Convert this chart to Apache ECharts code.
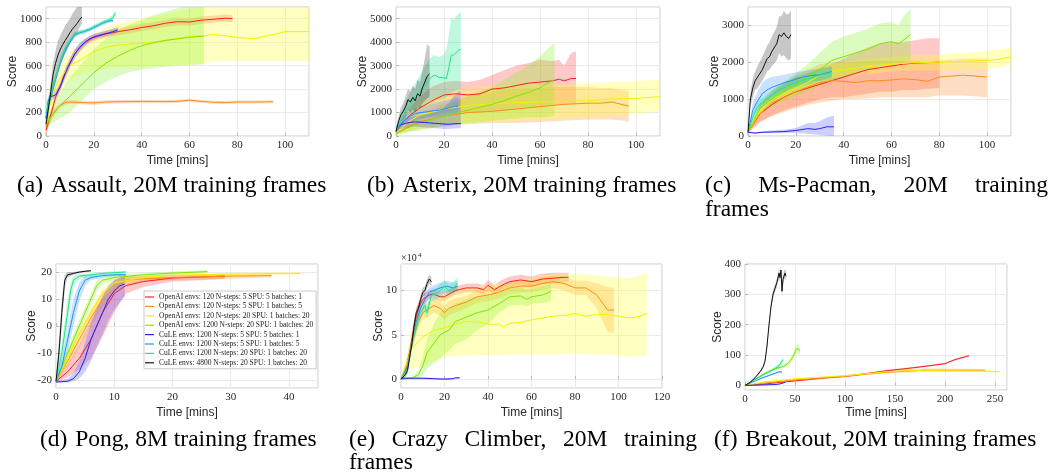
<!DOCTYPE html>
<html><head><meta charset="utf-8">
<script src="https://cdn.jsdelivr.net/npm/echarts@6/dist/echarts.min.js"></script>
<style>html,body{margin:0;padding:0;background:#fff}#c{width:1051px;height:475px}</style>
</head><body><div id="c"></div>
<script>
// ---------- series names / colours ----------
const NAMES = [
 'OpenAI envs: 120 N-steps: 5 SPU: 5 batches: 1',
 'OpenAI envs: 120 N-steps: 5 SPU: 1 batches: 5',
 'OpenAI envs: 120 N-steps: 20 SPU: 1 batches: 20',
 'OpenAI envs: 1200 N-steps: 20 SPU: 1 batches: 20',
 'CuLE envs: 1200 N-steps: 5 SPU: 5 batches: 1',
 'CuLE envs: 1200 N-steps: 5 SPU: 1 batches: 5',
 'CuLE envs: 1200 N-steps: 20 SPU: 1 batches: 20',
 'CuLE envs: 4800 N-steps: 20 SPU: 1 batches: 20'
];
const COLORS = ['#ff1f1f','#ff8c1a','#f2f200','#80e600','#2323ff','#1f8fff','#1fe68c','#111111'];
const BANDS  = ['rgba(255,40,40,0.25)','rgba(255,140,40,0.28)','rgba(255,255,60,0.32)','rgba(130,240,20,0.28)',
                'rgba(60,60,255,0.25)','rgba(40,140,255,0.25)','rgba(30,230,140,0.28)','rgba(0,0,0,0.22)'];
const X_TITLE = 'Time [mins]';
const Y_TITLE = 'Score';

// ---------- data: each point is [time (mins), mean, lower, upper] ----------
// order: red, orange, yellow, lime, blue, azure, spring, black  (same as NAMES)
const assault = [
 [[0,50,20,80],[2,180,150,210],[4,330,290,370],[6,430,390,470],[8,540,500,580],[10,620,585,660],[12,700,665,735],[14,750,715,785],[16,790,755,825],[18,820,790,850],[20,840,810,870],[25,870,840,900],[30,890,860,920],[35,905,875,935],[40,925,895,955],[45,940,910,970],[50,962,932,992],[55,975,945,1005],[60,972,942,1002],[65,988,958,1018],[70,995,965,1025],[75,1005,975,1035],[78,1000,970,1030]],
 [[0,80,20,140],[2,160,120,200],[4,220,190,250],[6,260,240,280],[8,285,265,305],[10,290,275,305],[15,285,270,300],[20,282,265,298],[25,290,275,305],[30,292,278,306],[40,295,280,310],[50,293,280,306],[55,296,282,310],[60,305,292,318],[65,295,282,308],[70,288,275,300],[75,285,272,298],[80,290,277,303],[90,290,277,303],[95,292,280,305]],
 [[0,120,60,180],[2,300,200,400],[5,470,350,590],[10,600,480,720],[15,655,530,790],[20,720,560,860],[25,755,575,920],[30,775,585,960],[40,790,595,1000],[50,815,600,1040],[60,848,610,1080],[66,855,615,1100],[70,865,640,1150],[75,855,640,1150],[80,840,640,1150],[87,830,640,1150],[95,865,640,1150],[100,890,640,1150],[110,890,640,1150]],
 [[0,100,60,140],[2,160,100,230],[5,240,140,340],[10,340,200,500],[15,440,300,620],[20,540,400,740],[25,620,460,830],[30,680,510,900],[35,730,545,950],[40,770,565,990],[45,795,580,1030],[50,815,590,1060],[55,828,598,1090],[60,842,605,1110],[66,852,612,1120]],
 [[0,150,100,200],[1,300,260,340],[2,335,305,365],[4,350,320,380],[6,420,385,455],[8,530,490,570],[10,620,580,660],[12,700,660,740],[14,755,720,790],[16,795,765,825],[18,825,800,850],[20,845,820,870],[22,858,835,881],[24,868,845,891],[26,878,855,901],[28,890,865,915],[30,905,880,930]],
 [[0,160,100,220],[1,260,220,300],[2,330,290,370],[4,480,440,520],[6,620,590,650],[8,730,705,755],[10,800,780,820],[12,860,840,880],[14,880,862,898],[16,890,872,908],[18,905,888,922],[20,925,908,942],[22,945,928,962],[24,965,948,982],[26,980,963,997],[28,985,968,1002]],
 [[0,200,100,300],[1,280,230,330],[2,350,310,390],[4,500,465,535],[6,640,610,670],[8,745,720,770],[10,810,790,830],[12,865,845,885],[14,885,868,902],[16,893,876,910],[18,910,893,927],[20,930,913,947],[22,950,933,967],[24,970,950,990],[26,985,965,1005],[28,1010,985,1035],[29,1050,1020,1080]],
 [[0,100,60,140],[1,230,170,290],[2,380,300,460],[3,530,430,630],[4,620,510,730],[5,690,570,810],[6,740,610,860],[7,780,660,900],[8,815,700,940],[9,845,740,970],[10,880,790,1000],[11,910,820,1040],[12,935,850,1070],[13,960,880,1100],[14,990,920,1130],[15,1015,960,1160]]
];
const asterix = [
 [[0,200,100,300],[3,600,350,850],[6,900,550,1250],[10,1200,700,1700],[15,1500,850,2100],[20,1750,1000,2300],[25,1800,1050,2350],[30,1750,1000,2300],[35,1800,1000,2400],[40,2000,1050,2600],[45,2050,1100,2800],[50,2150,1150,3000],[55,2250,1200,3100],[60,2300,1250,3250],[65,2350,1300,3200],[68,2420,1320,3250],[70,2350,1320,3000],[73,2450,1350,3550],[75,2450,1350,3600]],
 [[0,100,50,150],[5,400,200,700],[10,600,300,1000],[20,850,450,1400],[30,1000,500,1700],[40,1050,550,1900],[50,1150,550,2000],[60,1250,600,2050],[70,1350,650,2100],[80,1400,700,2100],[85,1400,700,2050],[90,1450,700,2050],[95,1320,650,1950],[97,1270,600,1900]],
 [[0,100,50,150],[5,600,200,1000],[10,900,400,1400],[20,1150,500,1800],[30,1300,550,2050],[40,1380,600,2150],[50,1420,650,2200],[60,1450,700,2200],[70,1480,750,2200],[80,1500,800,2250],[90,1580,850,2300],[100,1600,950,2350],[110,1680,1050,2400]],
 [[0,100,50,150],[5,350,150,550],[10,550,250,850],[20,850,400,1300],[30,1100,550,1700],[40,1350,650,2100],[45,1500,700,2400],[50,1700,750,2700],[55,1850,800,3000],[60,2050,800,3400],[63,2250,800,3700],[66,2400,850,4000]],
 [[0,300,150,450],[2,480,300,650],[4,540,350,750],[6,580,380,800],[8,600,400,850],[10,590,380,850],[12,580,370,900],[14,560,350,950],[16,540,330,1000],[18,530,320,1050],[20,510,300,1200],[22,500,300,1400],[24,520,320,1700],[26,530,330,1900],[27,530,330,1900]],
 [[0,200,100,300],[2,500,350,650],[4,700,500,900],[6,850,600,1100],[8,950,700,1200],[10,1000,750,1250],[12,1020,780,1300],[14,1050,800,1350],[16,1080,820,1400],[18,1100,830,1450],[20,1150,850,1500],[22,1200,900,1550],[24,1250,950,1600],[26,1280,980,1650]],
 [[0,200,100,300],[2,650,400,900],[4,1050,650,1450],[6,1350,850,1850],[8,1650,1050,2250],[10,1900,1200,2600],[12,2150,1350,2950],[14,2450,1500,3300],[16,2600,1550,3450],[17,2550,1550,3400],[18,2500,1550,3350],[20,2480,1600,3500],[21,2450,1650,3700],[22,2900,1750,4300],[23,3450,1850,5050],[24,3450,1900,4950],[25,3550,1950,5100],[26,3650,2000,5200],[27,3700,2000,5300]],
 [[0,200,100,300],[1,600,400,800],[2,900,600,1200],[3,1050,700,1400],[4,1250,800,1700],[5,1550,1100,2000],[6,1450,1000,1900],[7,1650,1150,2150],[8,1500,1000,2000],[9,1800,1250,2400],[10,1700,1150,2300],[11,2050,1400,2800],[12,2300,1500,3300],[13,2550,1600,3900],[14,2650,1700,3800]]
];
const mspacman = [
 [[0,100,80,120],[5,600,400,800],[10,850,550,1150],[15,1050,700,1400],[20,1200,800,1600],[25,1300,900,1700],[30,1400,1000,1850],[35,1500,1050,1950],[40,1600,1050,2100],[45,1700,1100,2250],[50,1800,1150,2400],[55,1850,1200,2500],[60,1900,1200,2550],[65,1950,1250,2550],[70,1980,1250,2600],[75,1990,1280,2650],[80,2000,1300,2650]],
 [[0,100,80,120],[5,600,350,850],[10,900,550,1250],[15,1050,650,1450],[20,1200,750,1650],[25,1330,850,1800],[30,1450,900,1950],[35,1500,950,2000],[40,1480,1000,2000],[45,1450,1000,2000],[50,1500,1020,2050],[55,1500,1050,2050],[60,1520,1050,2050],[65,1550,1050,2050],[70,1530,1050,2050],[75,1480,1050,2000],[80,1600,1100,2050],[90,1650,1100,2100],[100,1600,1050,2100]],
 [[0,100,80,120],[5,700,550,850],[10,1000,850,1150],[15,1150,1000,1300],[20,1300,1150,1500],[25,1450,1300,1650],[30,1650,1450,1850],[35,1750,1550,1950],[40,1800,1600,2000],[50,1880,1680,2080],[60,1950,1750,2150],[70,1990,1780,2200],[80,2000,1780,2220],[90,2030,1800,2260],[100,2050,1820,2300],[105,2080,1850,2350],[110,2150,1950,2400]],
 [[0,100,80,120],[5,750,600,900],[10,1000,800,1200],[15,1200,950,1450],[20,1400,1100,1700],[25,1600,1200,1950],[30,1800,1350,2250],[35,2050,1500,2550],[40,2150,1600,2700],[45,2250,1700,2800],[50,2350,1800,2900],[55,2500,1900,3050],[60,2560,1950,3100],[63,2500,1950,3000],[65,2600,2000,3250],[68,2750,2050,3450]],
 [[0,100,80,120],[3,80,60,100],[6,100,80,130],[10,110,80,150],[15,120,80,170],[20,150,80,220],[25,200,60,350],[28,180,40,350],[30,200,30,400],[33,250,10,500],[36,250,0,550]],
 [[0,100,80,120],[2,700,500,900],[4,950,700,1200],[6,1150,850,1450],[8,1250,950,1550],[10,1320,1050,1600],[14,1420,1200,1650],[18,1500,1300,1700],[22,1580,1400,1750],[26,1640,1480,1800],[30,1660,1500,1820],[35,1750,1600,1900]],
 [[0,100,80,120],[2,500,400,600],[4,800,680,920],[8,1020,900,1140],[12,1200,1070,1330],[16,1340,1200,1480],[20,1450,1300,1600],[25,1550,1400,1700],[30,1650,1500,1800],[35,1720,1570,1870]],
 [[0,100,80,120],[1,1000,800,1200],[2,1300,1050,1550],[3,1500,1250,1750],[4,1600,1300,1900],[6,1800,1500,2150],[8,2100,1750,2450],[9,2150,1800,2550],[10,2300,1900,2700],[12,2500,2050,2950],[13,2750,2250,3250],[14,2700,2150,3250],[15,2800,2200,3400],[16,2700,2100,3300],[17,2650,2050,3300],[18,2750,2100,3400]]
];
const pong = [
 [[0,-20.5,-21,-20],[2,-17,-19,-14],[4,-12,-16,-7],[6,-5,-12,2],[8,5,-4,11],[10,12,5,17],[12,15,12,18.5],[15,16.5,14.5,18.5],[20,17.8,16.5,19],[25,18.2,17,19.2],[29,18.5,17.5,19.3]],
 [[0,-20.5,-21,-20],[2,-13,-15,-11],[4,-5,-8,-2],[6,3,0,6],[8,10,7,13],[10,14,12,16],[12,17,15.5,18.3],[15,17.5,16.5,18.5],[20,18,17,19],[30,18.5,17.5,19.3],[37,18.7,18,19.4]],
 [[0,-20.5,-21,-20],[2,-12,-14,-10],[4,-3,-5,-1],[6,5,3,7],[8,12,10,14],[10,16,14.5,17.5],[15,18,17.3,18.7],[20,18.8,18.3,19.3],[30,19.3,18.8,19.8],[42,19.5,19,20]],
 [[0,-20.5,-21,-20],[2,-10,-12,-8],[4,0,-2,2],[6,10,8,12],[7,15,13,17],[8,17,15.5,18.5],[10,18,17,19],[15,19,18.3,19.7],[20,19.6,19,20.2],[26,20.2,19.7,20.7]],
 [[0,-20.8,-21,-20.5],[2,-20.5,-21,-19.5],[3,-19.5,-20.5,-17.5],[4,-17,-19.5,-13],[5,-12,-17,-6],[6,-5,-13,1],[7,0,-8,6],[8,5,-3,11],[9,10,2,15],[10,13,6,17],[11,15,9,18],[11.8,15.5,11,18.5]],
 [[0,-20.5,-21,-20],[1,-15,-17,-12],[2,-5,-9,-1],[3,5,0,10],[4,13,9,16],[5,17,15,18.5],[6,18,17,19],[8,18.7,18,19.3],[10,19,18.5,19.5],[12,19,18.5,19.5]],
 [[0,-20.5,-21,-20],[1,-10,-14,-6],[2,5,0,10],[2.5,13,9,16],[3,17,15,18.5],[4,18.5,17.5,19.3],[6,19,18.3,19.6],[8,19.5,18.9,20],[10,19.8,19.3,20.3],[12,20,19.5,20.5]],
 [[0,-20.5,-21,-20],[0.5,-10,-14,-6],[1,5,0,10],[1.5,17,14,19],[2,19,18,20],[3,19.5,19,20],[4,20,19.6,20.4],[5,20.3,20,20.6],[6,20.5,20.2,20.8]]
];
const crazyClimber = [
 [[0,0,0,0],[2,10000,5000,15000],[4,30000,22000,38000],[6,60000,52000,68000],[8,80000,73000,87000],[10,90000,84000,96000],[13,95000,90000,100000],[15,96000,91000,101000],[18,93000,88000,98000],[20,93000,88000,98000],[22,96000,91000,101000],[25,100000,95000,105000],[30,103000,98000,108000],[35,103000,98000,108000],[38,101000,96000,106000],[40,106000,100000,112000],[43,101000,96000,106000],[45,104000,98000,110000],[48,108000,102000,114000],[50,110000,104000,116000],[55,112000,106000,118000],[60,110000,104000,116000],[65,113000,107000,119000],[70,114000,108000,120000],[75,115000,110000,120000],[77,115000,110000,120000]],
 [[0,0,0,0],[3,20000,15000,25000],[5,40000,34000,46000],[8,65000,58000,72000],[10,75000,67000,83000],[15,83000,75000,91000],[18,80000,72000,88000],[20,75000,67000,83000],[22,80000,72000,88000],[25,83000,75000,91000],[30,87000,80000,94000],[35,93000,86000,100000],[40,95000,88000,102000],[45,98000,91000,105000],[50,103000,96000,110000],[55,105000,98000,112000],[60,105000,98000,112000],[65,108000,101000,115000],[70,110000,103000,117000],[75,108000,100000,116000],[80,103000,95000,111000],[85,103000,95000,111000],[90,95000,80000,108000],[95,78000,53000,104000],[98,78000,52000,103000]],
 [[0,0,0,0],[3,20000,8000,32000],[5,35000,12000,58000],[10,48000,15000,80000],[15,55000,20000,90000],[20,58000,25000,95000],[25,62000,26000,100000],[30,65000,26000,104000],[35,65000,27000,104000],[40,62000,27000,106000],[45,62000,27000,108000],[47,59000,27000,108000],[50,63000,28000,110000],[55,64000,28000,112000],[60,67000,28000,114000],[65,69000,28000,117000],[70,71000,28000,119000],[75,72000,28000,119000],[80,74000,29000,119000],[85,71000,28000,118000],[90,73000,28000,117000],[95,73000,28000,116000],[100,71000,27000,115000],[105,69000,25000,114000],[110,71000,26000,117000],[113,74000,27000,120000]],
 [[0,0,0,0],[5,1000,0,3000],[8,5000,1000,10000],[10,15000,5000,25000],[12,30000,12000,45000],[15,40000,18000,62000],[18,50000,23000,75000],[20,53000,28000,80000],[22,55000,32000,80000],[25,65000,40000,85000],[30,70000,45000,90000],[35,75000,55000,93000],[40,78000,62000,95000],[45,85000,75000,98000],[50,93000,83000,103000],[55,94000,84000,104000],[58,90000,82000,100000],[60,93000,85000,102000],[65,95000,86000,105000],[69,99000,88000,108000]],
 [[0,1000,0,2000],[5,1000,0,2000],[10,1000,0,2000],[15,500,-500,1500],[20,0,-1000,1000],[24,500,-500,1500],[25,1500,500,2500],[27,1500,500,2500]],
 [[0,0,0,0],[3,15000,10000,20000],[5,40000,34000,46000],[7,65000,59000,71000],[9,80000,74000,86000],[11,90000,84000,96000],[13,98000,92000,104000],[15,100000,94000,106000],[18,103000,97000,109000],[21,105000,99000,111000],[24,103000,97000,109000],[26,105000,99000,111000]],
 [[0,0,0,0],[3,12000,7000,17000],[5,40000,33000,47000],[7,60000,52000,68000],[9,75000,67000,83000],[11,83000,76000,90000],[12,75000,68000,82000],[14,95000,88000,102000],[16,96000,89000,103000],[18,100000,93000,107000],[20,105000,98000,112000],[22,100000,93000,107000],[24,103000,96000,110000],[26,108000,101000,115000]],
 [[0,0,0,0],[2,5000,2000,8000],[3,10000,6000,14000],[4,25000,20000,30000],[5,40000,35000,45000],[6,60000,55000,65000],[7,75000,70000,80000],[8,80000,75000,85000],[9,90000,85000,95000],[10,98000,93000,103000],[11,100000,95000,105000],[12,108000,103000,113000],[13,113000,108000,118000],[14,110000,105000,115000]]
];
const breakout = [
 [[0,0,0,0],[20,5,3,7],[50,15,12,18],[80,25,22,28],[100,30,27,33],[120,38,35,41],[140,48,45,51],[160,55,52,58],[180,63,60,66],[200,72,69,75],[210,85,82,88],[224,98,95,101]],
 [[0,0,0,0],[20,8,6,10],[50,18,15,21],[80,25,22,28],[100,30,27,33],[120,37,34,40],[140,43,39,47],[160,47,42,52],[180,50,44,56],[200,50,44,56],[220,50,45,55],[240,50,46,54]],
 [[0,0,0,0],[20,12,10,14],[50,22,20,24],[80,28,26,30],[100,32,30,34],[120,38,36,40],[140,45,42,48],[160,48,45,51],[180,50,47,53],[200,48,45,51],[220,48,45,51],[240,47,44,50],[255,45,42,48]],
 [[0,0,0,0],[10,20,17,23],[20,40,36,44],[30,55,50,60],[38,62,56,68],[42,70,63,77],[45,80,72,88],[48,95,85,105],[50,110,98,122],[52,122,108,136],[54,118,103,133],[55,115,100,130]],
 [[0,0,0,1],[10,1,0,2],[20,2,1,3],[30,3,2,4],[35,5,4,6],[37,8,7,9],[40,10,9,11]],
 [[0,0,0,0],[10,15,13,17],[20,28,26,30],[30,40,37,43],[34,45,42,48],[37,44,41,47]],
 [[0,0,0,0],[10,20,17,23],[20,38,34,42],[30,55,49,61],[34,65,57,73],[36,75,66,84],[38,85,75,95]],
 [[0,0,0,0],[5,10,8,12],[10,25,22,28],[15,45,41,49],[18,60,55,65],[20,80,74,86],[22,130,122,138],[24,200,190,210],[26,260,248,272],[28,300,287,313],[30,320,307,333],[32,340,326,354],[34,370,355,385],[35,355,340,370],[36,380,365,395],[37,310,295,325],[38,350,335,365],[40,370,355,385],[41,360,345,375]]
];

// ---------- captions ----------
const CAPTIONS = [
 {x:17,  y:186, text:'(a)\u2004Assault, 20M training frames'},
 {x:367, y:186, text:'(b)\u2004Asterix, 20M training frames'},
 {x:705, y:186, words:['(c)','Ms-Pacman,','20M','training'], x1:1048},
 {x:705, y:210, text:'frames'},
 {x:40,  y:440, text:'(d)\u2004Pong, 8M training frames'},
 {x:349, y:440, words:['(e)','Crazy','Climber,','20M','training'], x1:697},
 {x:349, y:463, text:'frames'},
 {x:714, y:440, text:'(f)\u2004Breakout, 20M training frames'}
];

// ---------- layout ----------
const PANELS = [
 {data:assault,  grid:{left:46, top:7, width:263, height:129},
  x:{min:0,max:110,interval:20,showMax:false,gap:19}, y:{min:0,max:1100,interval:200,showMax:false,gap:27}},
 {data:asterix,  grid:{left:396,top:7, width:264, height:129},
  x:{min:0,max:110,interval:20,showMax:false,gap:19}, y:{min:0,max:5500,interval:1000,showMax:false,gap:27}},
 {data:mspacman, grid:{left:748,top:7, width:263, height:129},
  x:{min:0,max:110,interval:20,showMax:false,gap:19}, y:{min:0,max:3500,interval:1000,showMax:false,gap:27}},
 {data:pong,     grid:{left:56, top:264,width:262, height:124},
  x:{min:0,max:45,interval:10,showMax:false,gap:19}, y:{min:-23,max:23,split:5,showMin:false,showMax:false,gap:18}},
 {data:crazyClimber, grid:{left:401,top:264,width:261, height:124},
  x:{min:0,max:120,interval:20,gap:19}, y:{min:-10000,max:130000,split:3,showMin:false,showMax:false,gap:16,fmt:v=>String(v/10000)}},
 {data:breakout, grid:{left:745,top:264,width:262, height:126},
  x:{min:0,max:262,interval:50,showMax:false,gap:17}, y:{min:-15,max:400,split:4,showMin:false,gap:21}}
];

const TXT = '#262626';
function axis(dim, i, A) {
  const o = {
    type:'value', gridIndex:i, min:A.min, max:A.max,
    name: dim === 'x' ? X_TITLE : Y_TITLE, nameLocation:'middle', nameGap:A.gap, nameMoveOverlap:false,
    nameTextStyle:{fontFamily:'Liberation Sans', fontSize:12, color:TXT},
    axisLine:{show:false},
    axisTick:{show:true, inside:true, length:3, lineStyle:{color:'#b8b8b8'}},
    splitLine:{show:true, lineStyle:{color:'#ebebeb', width:1}},
    axisLabel:{fontFamily:'Liberation Serif', fontSize:11, color:TXT, margin:4, hideOverlap:false,
      showMinLabel: A.showMin !== false, showMaxLabel: A.showMax !== false,
      formatter: A.fmt || (v => String(v))}
  };
  if (A.interval) o.interval = A.interval;
  if (A.split) o.splitNumber = A.split;
  if (dim === 'y') o.nameRotate = 90;
  return o;
}

// shaded band (lower..upper) as one polygon built through the axis scales
function bandSeries(i, pts, color) {
  return {type:'custom', xAxisIndex:i, yAxisIndex:i, silent:true, z:1,
    data:pts, encode:{x:0, y:[2,3]},
    renderItem:(params, api) => {
      if (params.dataIndex !== 0) return null;
      const up = pts.map(d => api.coord([d[0], d[3]]));
      const lo = pts.map(d => api.coord([d[0], d[2]])).reverse();
      const cs = params.coordSys;
      return {type:'polygon', shape:{points:up.concat(lo)}, style:{fill:color, stroke:null},
        clipPath:{type:'rect', shape:{x:cs.x, y:cs.y, width:cs.width, height:cs.height}}};
    }};
}

const option = {animation:false, backgroundColor:'#fff', grid:[], xAxis:[], yAxis:[], series:[], graphic:[]};
PANELS.forEach((P, i) => {
  option.grid.push(Object.assign({show:true, borderColor:'#c8c8c8', borderWidth:1, backgroundColor:'transparent',
    containLabel:false, outerBoundsMode:'none'}, P.grid));
  option.xAxis.push(axis('x', i, P.x));
  option.yAxis.push(axis('y', i, P.y));
  P.data.forEach((pts, s) => option.series.push(bandSeries(i, pts, BANDS[s])));
  P.data.forEach((pts, s) => {
    option.series.push({name:NAMES[s], type:'line', xAxisIndex:i, yAxisIndex:i, silent:true,
      data:pts.map(d => [d[0], d[1]]), symbol:'none',
      lineStyle:{width:1, color:COLORS[s]}, itemStyle:{color:COLORS[s]}, z:3});
  });
});

option.legend = {
  data:NAMES, orient:'vertical', left:144, top:291, selectedMode:false,
  icon:'path://M0,0L10,0L10,1.3L0,1.3Z',
  itemWidth:9, itemHeight:6, itemGap:1.4,
  textStyle:{fontFamily:'Liberation Serif', fontSize:7.5, lineHeight:7, color:'#222'},
  backgroundColor:'#fff', borderColor:'#bdbdbd', borderWidth:0.8, borderRadius:0, padding:[2,3,2,1]
};

// captions (justified lines measured with canvas)
const CAP_SIZE = 23.5, CAP_FONT = 'Liberation Serif';
const mctx = document.createElement('canvas').getContext('2d');
mctx.font = CAP_SIZE + 'px "' + CAP_FONT + '"';
function capText(t, x, y) {
  return {type:'text', x:x, y:y, silent:true,
    style:{text:t, fontSize:CAP_SIZE, fontFamily:CAP_FONT, fill:'#000', verticalAlign:'middle', align:'left'}};
}
CAPTIONS.forEach(c => {
  if (c.words) {
    const ws = c.words.map(w => mctx.measureText(w).width);
    const tot = ws.reduce((a, b) => a + b, 0);
    const gap = (c.x1 - c.x - tot) / (c.words.length - 1);
    let cx = c.x;
    c.words.forEach((w, k) => { option.graphic.push(capText(w, cx, c.y)); cx += ws[k] + gap; });
  } else option.graphic.push(capText(c.text, c.x, c.y));
});
// x10^4 multiplier on Crazy Climber
option.graphic.push({type:'text', x:401, y:258, silent:true,
  style:{text:'\u00d710', fontSize:10, fontFamily:'Liberation Serif', fill:TXT, verticalAlign:'middle'}});
option.graphic.push({type:'text', x:418, y:255, silent:true,
  style:{text:'4', fontSize:7, fontFamily:'Liberation Serif', fill:TXT, verticalAlign:'middle'}});

const chart = echarts.init(document.getElementById('c'), null, {renderer:'canvas'});
chart.setOption(option);
</script></body></html>
